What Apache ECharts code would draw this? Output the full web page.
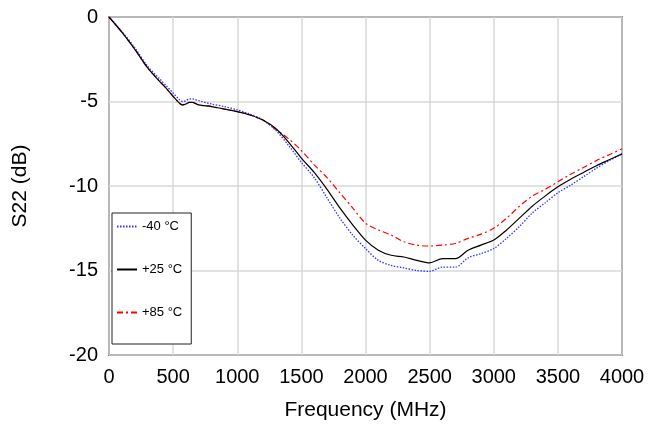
<!DOCTYPE html>
<html><head><meta charset="utf-8">
<script src="https://cdn.jsdelivr.net/npm/echarts@6/dist/echarts.min.js"></script>
<style>html,body{margin:0;padding:0;background:#fff}#c{width:650px;height:432px}</style>
</head><body><div id="c"></div>
<script>
const freq = [0,100,200,300,400,450,500,550,575,600,625,650,700,800,900,1000,1100,1200,1300,1400,1500,1600,1700,1800,1900,2000,2100,2200,2300,2400,2500,2600,2700,2800,2900,3000,3100,3200,3300,3400,3500,3600,3700,3800,3900,4000];
const s22_m40 = [0,-0.85,-1.8,-2.9,-3.7,-4.1,-4.5,-4.9,-5.0,-4.95,-4.85,-4.85,-4.95,-5.15,-5.3,-5.5,-5.75,-6.1,-6.7,-7.6,-8.6,-9.5,-10.7,-11.9,-12.9,-13.7,-14.4,-14.7,-14.85,-15.0,-15.05,-14.8,-14.8,-14.25,-14.0,-13.7,-13.1,-12.4,-11.6,-11.0,-10.4,-9.95,-9.45,-8.95,-8.5,-8.1];
const s22_p25 = [0,-0.9,-1.9,-3.0,-3.85,-4.25,-4.7,-5.1,-5.2,-5.15,-5.05,-5.05,-5.2,-5.3,-5.45,-5.6,-5.8,-6.1,-6.6,-7.4,-8.35,-9.2,-10.2,-11.3,-12.3,-13.2,-13.8,-14.1,-14.2,-14.4,-14.55,-14.3,-14.3,-13.8,-13.5,-13.2,-12.6,-11.9,-11.2,-10.6,-10.05,-9.6,-9.2,-8.8,-8.45,-8.1];
const s22_p85 = [0,-0.9,-1.9,-3.0,-3.85,-4.25,-4.7,-5.1,-5.2,-5.15,-5.05,-5.05,-5.2,-5.3,-5.45,-5.6,-5.8,-6.1,-6.65,-7.2,-7.9,-8.75,-9.5,-10.4,-11.3,-12.2,-12.6,-12.9,-13.3,-13.5,-13.55,-13.5,-13.4,-13.1,-12.85,-12.5,-11.9,-11.2,-10.6,-10.2,-9.75,-9.3,-8.9,-8.5,-8.15,-7.8];
const seriesNames = ['-40 °C','+25 °C','+85 °C'];
const xTicks = [0,500,1000,1500,2000,2500,3000,3500,4000];
const yTicks = [0,-5,-10,-15,-20];

function pairs(ys){ return freq.map((f,i)=>[f,ys[i]]); }
const chart = echarts.init(document.getElementById('c'));
const font = 'Liberation Sans, Arial, sans-serif';
chart.setOption({
  animation:false,
  backgroundColor:'#fff',
  grid:{left:109,right:28,top:17,bottom:77,show:true,borderColor:'#222',borderWidth:1.5,backgroundColor:'transparent'},
  xAxis:{type:'value',min:xTicks[0],max:xTicks[xTicks.length-1],interval:500,
    name:'Frequency (MHz)',nameLocation:'middle',nameGap:45,
    nameTextStyle:{fontFamily:font,fontSize:21,color:'#000'},
    axisLine:{show:false},axisTick:{show:false},
    axisLabel:{fontFamily:font,fontSize:20,color:'#000',margin:12,formatter:v=>String(v)},
    splitLine:{show:true,lineStyle:{color:'#d9d9d9',width:1.5}}},
  yAxis:{type:'value',min:yTicks[yTicks.length-1],max:yTicks[0],interval:5,
    name:'S22 (dB)',nameLocation:'middle',nameGap:78,
    nameTextStyle:{fontFamily:font,fontSize:21,color:'#000'},
    axisLine:{show:false},axisTick:{show:false},
    axisLabel:{fontFamily:font,fontSize:20,color:'#000',margin:11,formatter:v=>String(v)},
    splitLine:{show:true,lineStyle:{color:'#d9d9d9',width:1.5}}},
  legend:{orient:'vertical',left:112,top:213,padding:[7,9,25,4],itemGap:30,itemWidth:20,itemHeight:14,
    borderColor:'#222',borderWidth:1,backgroundColor:'#fff',
    itemStyle:{opacity:0},
    textStyle:{fontFamily:font,fontSize:13,color:'#000'},
    data:seriesNames},
  series:[
    {name:seriesNames[0],type:'line',data:pairs(s22_m40),showSymbol:false,symbol:'none',smooth:0.3,
      lineStyle:{color:'#3333ff',width:1.3,type:[1.5,1.5]},itemStyle:{color:'#3333ff'},z:3},
    {name:seriesNames[1],type:'line',data:pairs(s22_p25),showSymbol:false,symbol:'none',smooth:0.3,
      lineStyle:{color:'#000',width:1.2,type:'solid'},itemStyle:{color:'#000'},z:4},
    {name:seriesNames[2],type:'line',data:pairs(s22_p85),showSymbol:false,symbol:'none',smooth:0.3,
      lineStyle:{color:'#ff0000',width:1.2,type:[6,3,2,3]},itemStyle:{color:'#ff0000'},z:2}
  ]
});
</script></body></html>
